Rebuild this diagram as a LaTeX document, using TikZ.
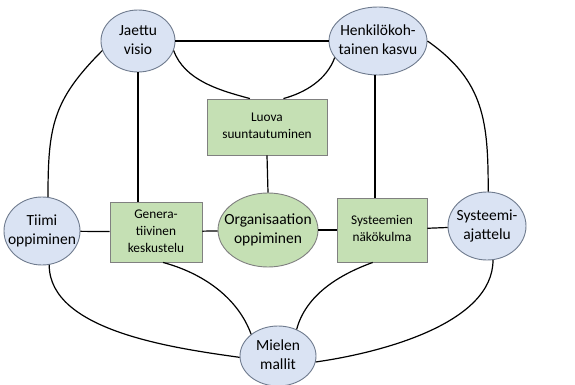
\documentclass[tikz,border=0pt]{standalone}
\usepackage{fontspec}
\setmainfont{Carlito}
\usetikzlibrary{shapes.geometric}
\definecolor{ovalfill}{HTML}{DAE3F3}
\definecolor{ovaldraw}{HTML}{6F7B8E}
\definecolor{boxfill}{HTML}{C5E0B4}
\definecolor{boxdraw}{HTML}{808080}
% text centred over the node without widening it
\newcommand{\lbl}[1]{\makebox[0pt]{\begin{tabular}{@{}c@{}}#1\end{tabular}}}
\tikzset{
  oval/.style={ellipse, draw=ovaldraw, fill=ovalfill, line width=0.9pt, inner sep=0pt,
    font=\fontsize{15.5}{19.5}\selectfont},
  greenoval/.style={oval, fill=boxfill, draw=boxdraw},
  topicbox/.style={rectangle, draw=boxdraw, fill=boxfill, line width=0.9pt, inner sep=0pt,
    font=\fontsize{13.3}{17}\selectfont},
  link/.style={line width=1.2pt, black}
}
\begin{document}
\begin{tikzpicture}[x=1pt, y=-1pt]
\useasboundingbox (0,0) rectangle (575,385);
\fill[white] (0,0) rectangle (575,385);

% nodes
\node[oval, minimum width=74, minimum height=62] (jv) at (138,41) {\lbl{Jaettu\\visio}};
\node[oval, minimum width=98, minimum height=68] (hk) at (378,41) {\lbl{Henkilökoh-\\tainen kasvu}};
\node[topicbox, minimum width=120, minimum height=56] (lu) at (267,127) {\lbl{Luova\\suuntautuminen}};
\node[greenoval, minimum width=100, minimum height=74] (org) at (268,230) {\lbl{Organisaation\\oppiminen}};
\node[oval, minimum width=76, minimum height=68] (tiimi) at (42,231) {\lbl{Tiimi\\oppiminen}};
\node[topicbox, minimum width=92, minimum height=60] (gen) at (156,232) {\lbl{Genera-\\tiivinen\\keskustelu}};
\node[topicbox, minimum width=90, minimum height=64] (sys) at (382,230) {\lbl{Systeemien\\näkökulma}};
\node[oval, minimum width=78, minimum height=68] (sa) at (487,226) {\lbl{Systeemi-\\ajattelu}};
\node[oval, minimum width=76, minimum height=60] (mm) at (278,356) {\lbl{Mielen\\mallit}};

% straight connectors
\draw[link] (jv.east) -- (hk.west);
\draw[link] (jv.south) -- (jv.south |- gen.north);
\draw[link] (hk.265) -- (hk.265 |- sys.north);
\draw[link] (lu.south) -- (org.north);
\draw[link] (tiimi) -- (gen);
\draw[link] (gen) -- (org);
\draw[link] (org) -- (sys);
\draw[link] (sys) -- (sa);

% curved connectors
\draw[link] (jv.195) to[out=225, in=90, looseness=1.15] (tiimi.80);
\draw[link] (jv.-15) to[out=-70, in=165, looseness=0.9] (lu.121);
\draw[link] (hk.201) to[out=-110, in=15, looseness=0.9] (lu.60);
\draw[link] (hk.0) to[out=-35, in=90, looseness=1.1] (sa.88);
\draw[link] (tiimi.-78) to[out=-90, in=172, looseness=0.8] (mm.182);
\draw[link] (gen.-77) to[out=-15, in=110, looseness=0.9] (mm.141);
\draw[link] (sys.-106) to[out=-160, in=75, looseness=0.9] (mm.55);
\draw[link] (sa.-80) to[out=-90, in=8, looseness=0.8] (mm.-9);
\end{tikzpicture}
\end{document}
